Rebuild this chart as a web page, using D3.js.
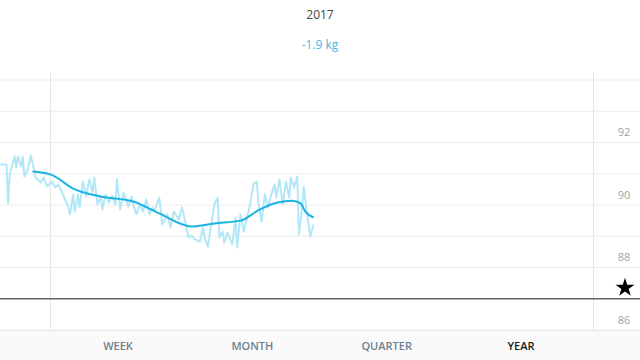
<!DOCTYPE html>
<html><head><meta charset="utf-8">
<script src="https://cdn.jsdelivr.net/npm/d3@7"></script>
<style>body{margin:0;background:#fff}svg{display:block;font-family:"Open Sans",sans-serif}</style>
</head><body><svg id="c" width="640" height="360"></svg>
<script>
const title = "2017";
const changeLabel = "-1.9 kg";
const tabs = ["WEEK", "MONTH", "QUARTER", "YEAR"];
const activeTab = "YEAR";
const yTicks = [86, 88, 90, 92];
const goalWeight = 87;
const monthStartDays = [31, 365];
const rawDays = [0,4,5,6,9,10,11,13,14,15,17,19,22,25,27,29,32,34,36,38,40,42,43,45,46,48,49,51,53,55,57,58,60,62,63,65,67,69,71,72,74,76,79,81,82,84,86,88,90,92,94,95,98,100,103,105,107,110,112,114,116,118,120,123,125,126,128,130,132,134,135,137,138,140,143,145,146,148,150,151,154,156,158,159,161,163,165,167,169,170,172,174,176,178,179,181,183,184,186,187,189,191,193];
const rawKg = [91.30,91.30,90.05,90.98,91.55,91.20,91.55,91.23,91.55,90.91,91.14,91.58,90.88,90.72,90.88,90.59,90.75,90.56,90.66,90.43,90.18,89.95,89.70,90.34,89.79,90.34,89.92,90.75,90.27,90.82,90.40,90.88,90.02,90.27,89.86,90.34,90.08,90.30,90.02,90.82,89.86,90.40,89.95,90.27,90.02,89.70,90.02,89.79,90.18,89.70,89.92,89.79,90.24,89.38,89.70,89.28,89.79,89.54,89.92,89.47,88.96,89.02,88.90,88.83,89.28,88.96,88.67,89.38,90.02,90.24,88.96,89.15,88.80,89.12,88.74,89.60,88.64,89.70,89.15,89.38,90.02,90.66,90.75,90.11,89.47,90.34,89.92,90.34,90.66,90.24,90.82,90.02,90.75,90.24,90.88,90.56,90.91,89.06,89.92,90.59,89.70,88.99,89.38];
const trendDays = [20,31,46,62,82,98,118,132,148,160,171,180,185,188,193];
const trendKg = [91.07,90.98,90.50,90.27,90.11,89.73,89.31,89.41,89.50,89.86,90.08,90.14,90.05,89.79,89.60];

const svg = d3.select("#c");
const x = d3.scaleLinear().domain([0, 365]).range([0, 593]);
const y = d3.scaleLinear().domain([86, 94]).range([330, 80]);

// horizontal grid
svg.append("g").selectAll("line").data(d3.range(86, 95)).join("line")
  .attr("x1", 0).attr("x2", 640).attr("y1", d => y(d)).attr("y2", d => y(d))
  .attr("stroke", "#ececec").attr("stroke-width", 1);
// vertical grid
svg.append("g").selectAll("line").data(monthStartDays).join("line")
  .attr("x1", d => Math.round(x(d)) + 0.5).attr("x2", d => Math.round(x(d)) + 0.5)
  .attr("y1", 72).attr("y2", 330).attr("stroke", "#e6e6e6");

// tabs background
svg.append("rect").attr("x", 0).attr("y", 331).attr("width", 640).attr("height", 29).attr("fill", "#fafafa");
svg.append("line").attr("x1", 0).attr("x2", 640).attr("y1", 330.5).attr("y2", 330.5).attr("stroke", "#e8e8e8");

// y labels
svg.append("g").selectAll("text").data(yTicks).join("text")
  .attr("x", 624).attr("y", d => y(d) - 10).attr("dy", "0.35em").attr("text-anchor", "middle")
  .attr("font-size", 11).attr("fill", "#9aa5ad").text(d => d);

// goal line
svg.append("line").attr("x1", 0).attr("x2", 640).attr("y1", y(goalWeight)).attr("y2", y(goalWeight))
  .attr("stroke", "#666").attr("stroke-width", 1.5);
svg.append("path").attr("d", d3.symbol(d3.symbolStar, 110)())
  .attr("transform", `translate(625,${y(goalWeight) - 11})`).attr("fill", "#000");

// raw line
const raw = rawDays.map((d, i) => [d, rawKg[i]]);
svg.append("path").datum(raw)
  .attr("d", d3.line().x(d => x(d[0])).y(d => y(d[1])))
  .attr("fill", "none").attr("stroke", "#b2e7f7").attr("stroke-width", 2).attr("stroke-linejoin", "round");
// trend
const trend = trendDays.map((d, i) => [d, trendKg[i]]);
svg.append("path").datum(trend)
  .attr("d", d3.line().x(d => x(d[0])).y(d => y(d[1])).curve(d3.curveMonotoneX))
  .attr("fill", "none").attr("stroke", "#1cb3e2").attr("stroke-width", 2);

// title
svg.append("text").attr("x", 320).attr("y", 15).attr("dy", "0.35em").attr("text-anchor", "middle")
  .attr("font-size", 12).attr("fill", "#444").text(title);
svg.append("text").attr("x", 320).attr("y", 45).attr("dy", "0.35em").attr("text-anchor", "middle")
  .attr("font-size", 12).attr("fill", "#3fb6e0").text(changeLabel);

// tabs
const tabX = d3.scalePoint().domain(tabs).range([118, 521]);
svg.append("g").selectAll("text").data(tabs).join("text")
  .attr("x", d => tabX(d)).attr("y", 346).attr("dy", "0.35em").attr("text-anchor", "middle")
  .attr("font-size", 11).attr("font-weight", 600)
  .attr("fill", d => d === activeTab ? "#1a1a1a" : "#6d8190").text(d => d);
</script></body></html>
